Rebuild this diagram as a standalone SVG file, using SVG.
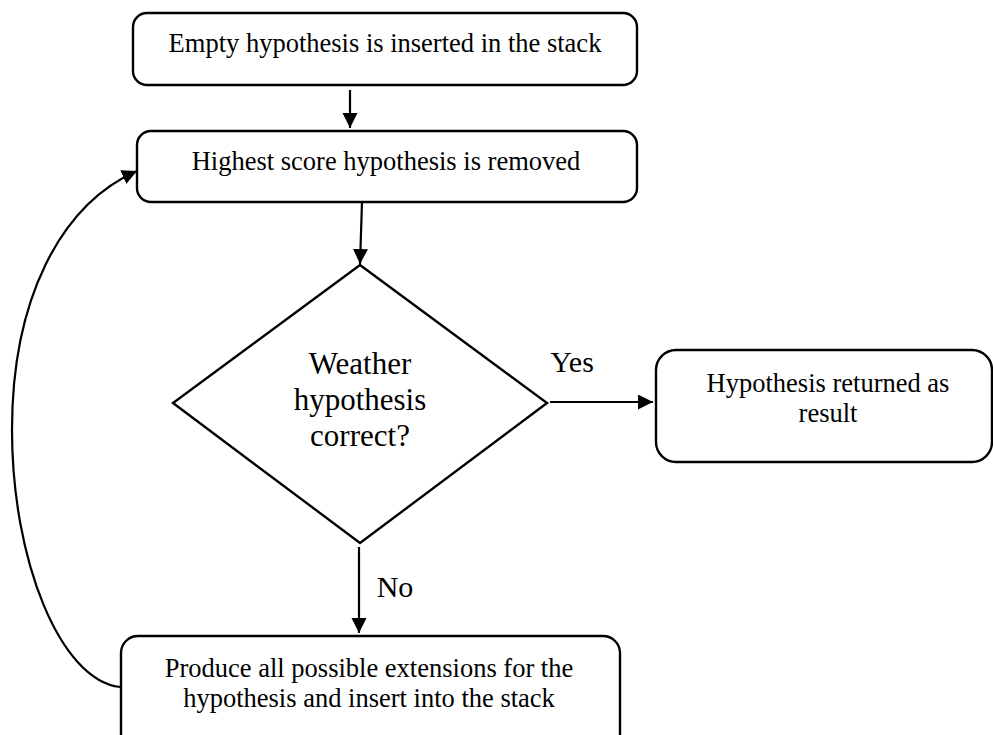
<svg xmlns="http://www.w3.org/2000/svg" width="993" height="735" viewBox="0 0 993 735">
  <style>
    .box { fill: #ffffff; stroke: #000000; stroke-width: 2.4; }
    .edge { fill: none; stroke: #000000; stroke-width: 2.2; }
    .lbl { font-family: "Liberation Serif", "Times New Roman", serif; fill: #000000; text-anchor: middle; }
    .t26 { font-size: 26.5px; }
    .t30 { font-size: 30px; }
  </style>
  <defs>
    <marker id="arrow" markerUnits="userSpaceOnUse" markerWidth="16" markerHeight="16" refX="15" refY="7.5" orient="auto">
      <path d="M0,0 L15,7.5 L0,15 Z" fill="#000000"/>
    </marker>
  </defs>

  <rect width="993" height="735" fill="#ffffff"/>

  <!-- connectors -->
  <g id="connectors">
    <line class="edge" x1="350" y1="90" x2="350" y2="128" marker-end="url(#arrow)"/>
    <line class="edge" x1="362" y1="202" x2="360" y2="264" marker-end="url(#arrow)"/>
    <line class="edge" x1="550" y1="402" x2="653" y2="402" marker-end="url(#arrow)"/>
    <line class="edge" x1="359" y1="547" x2="359" y2="633" marker-end="url(#arrow)"/>
    <path class="edge" d="M120,687 C60,680 12,560 12,430 C12,300 60,205 137,171" marker-end="url(#arrow)"/>
    <text class="lbl t30" x="572" y="372">Yes</text>
    <text class="lbl t30" x="395" y="597">No</text>
  </g>

  <!-- start -->
  <g id="start">
    <rect class="box" x="133" y="13" width="504" height="72" rx="14"/>
    <text class="lbl t26" x="385" y="52">Empty hypothesis is inserted in the stack</text>
  </g>

  <!-- pop highest -->
  <g id="pop">
    <rect class="box" x="137" y="131" width="500" height="71" rx="14"/>
    <text class="lbl t26" x="386" y="170">Highest score hypothesis is removed</text>
  </g>

  <!-- decision -->
  <g id="decision">
    <polygon class="box" points="360,265 547,403 360,543 173,403"/>
    <text class="lbl" font-size="31" x="360" y="374">Weather</text>
    <text class="lbl" font-size="31" x="360" y="410">hypothesis</text>
    <text class="lbl" font-size="31" x="360" y="446">correct?</text>
  </g>

  <!-- result -->
  <g id="result">
    <rect class="box" x="656" y="350" width="336" height="112" rx="20"/>
    <text class="lbl t26" x="828" y="392">Hypothesis returned as</text>
    <text class="lbl t26" x="828" y="422">result</text>
  </g>

  <!-- expand -->
  <g id="expand">
    <rect class="box" x="121" y="636" width="499" height="120" rx="17"/>
    <text class="lbl t26" x="369" y="677">Produce all possible extensions for the</text>
    <text class="lbl t26" x="369" y="707">hypothesis and insert into the stack</text>
  </g>
</svg>
